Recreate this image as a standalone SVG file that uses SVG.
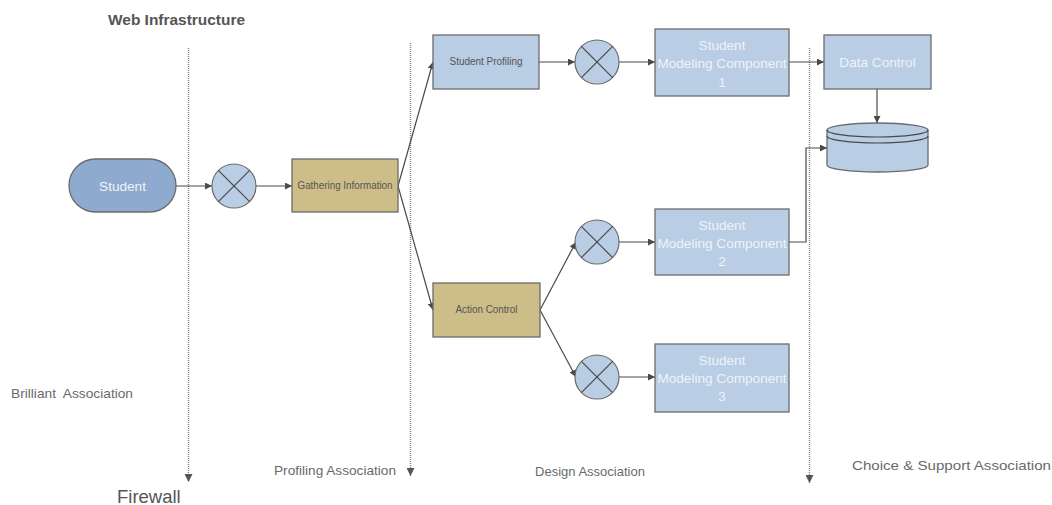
<svg xmlns="http://www.w3.org/2000/svg" width="1052" height="505" viewBox="0 0 1052 505">
<style>
.box{fill:#b9cde4;stroke:#6b6b6b;stroke-width:1.3}
.gold{fill:#cdbd88;stroke:#6b6b6b;stroke-width:1.3}
.pill{fill:#8eaacf;stroke:#6b6b6b;stroke-width:1.3}
.circ{fill:#b9cde4;stroke:#6b6b6b;stroke-width:1.2}
.x{stroke:#4a4a4a;stroke-width:1.2}
.con{fill:none;stroke:#4a4a4a;stroke-width:1.2}
.dot{fill:none;stroke:#888;stroke-width:1.5;stroke-dasharray:1 1}
.wt{font-family:"Liberation Sans",Arial,sans-serif;fill:#eef3f9;text-anchor:middle;font-size:13.6px}
.dt{font-family:"Liberation Sans",Arial,sans-serif;fill:#555;text-anchor:middle;font-size:10px}
.lbl{font-family:"Liberation Sans",Arial,sans-serif;fill:#6a6a6a;font-size:13.5px}
</style>
<defs>
<marker id="ah" viewBox="0 0 10 10" refX="10" refY="5" markerWidth="7" markerHeight="7" markerUnits="userSpaceOnUse" orient="auto">
<path d="M0,0 L10,5 L0,10 z" fill="#4a4a4a"/>
</marker>
<marker id="ahd" viewBox="0 0 10 10" refX="10" refY="5" markerWidth="8" markerHeight="8" markerUnits="userSpaceOnUse" orient="auto">
<path d="M0,0 L10,5 L0,10 z" fill="#555"/>
</marker>
</defs>

<text x="108" y="25" font-family="Liberation Sans,Arial,sans-serif" font-weight="bold" font-size="15" fill="#555" textLength="137" lengthAdjust="spacingAndGlyphs">Web Infrastructure</text>

<g id="dividers">
<line class="dot" x1="188.5" y1="48" x2="188.5" y2="482" marker-end="url(#ahd)"/>
<line class="dot" x1="410.5" y1="43" x2="410.5" y2="476" marker-end="url(#ahd)"/>
<line class="dot" x1="809.5" y1="48" x2="809.5" y2="483" marker-end="url(#ahd)"/>
</g>

<g id="connectors">
<line class="con" x1="176" y1="186" x2="212" y2="186" marker-end="url(#ah)"/>
<line class="con" x1="256" y1="186" x2="292" y2="186" marker-end="url(#ah)"/>
<line class="con" x1="398" y1="186" x2="433" y2="62" marker-end="url(#ah)"/>
<line class="con" x1="398" y1="186" x2="433" y2="310" marker-end="url(#ah)"/>
<line class="con" x1="539" y1="62" x2="575" y2="62" marker-end="url(#ah)"/>
<line class="con" x1="619" y1="62" x2="655" y2="62" marker-end="url(#ah)"/>
<line class="con" x1="789" y1="62" x2="824" y2="62" marker-end="url(#ah)"/>
<line class="con" x1="877" y1="89" x2="877" y2="123" marker-end="url(#ah)"/>
<line class="con" x1="540" y1="310" x2="576" y2="242" marker-end="url(#ah)"/>
<line class="con" x1="540" y1="310" x2="576" y2="377" marker-end="url(#ah)"/>
<line class="con" x1="619" y1="242" x2="655" y2="242" marker-end="url(#ah)"/>
<line class="con" x1="619" y1="377" x2="655" y2="377" marker-end="url(#ah)"/>
<polyline class="con" points="789,242 806,242 806,148 827,148" marker-end="url(#ah)"/>
</g>

<g id="student">
<rect class="pill" x="69" y="159" width="107" height="53" rx="26.5"/>
<text class="wt" x="122.5" y="191" font-size="13">Student</text>
</g>

<g id="junction1">
<circle class="circ" cx="234" cy="186" r="22"/>
<line class="x" x1="218.4" y1="170.4" x2="249.6" y2="201.6"/>
<line class="x" x1="249.6" y1="170.4" x2="218.4" y2="201.6"/>
</g>

<g id="gathering">
<rect class="gold" x="292" y="159" width="106" height="53"/>
<text class="dt" x="345" y="189" textLength="95" lengthAdjust="spacingAndGlyphs">Gathering Information</text>
</g>

<g id="profiling">
<rect class="box" x="433" y="35" width="106" height="54"/>
<text class="dt" x="486" y="65" textLength="73" lengthAdjust="spacingAndGlyphs">Student Profiling</text>
</g>

<g id="junction2">
<circle class="circ" cx="597" cy="62" r="22"/>
<line class="x" x1="581.4" y1="46.4" x2="612.6" y2="77.6"/>
<line class="x" x1="612.6" y1="46.4" x2="581.4" y2="77.6"/>
</g>

<g id="smc1">
<rect class="box" x="655" y="29" width="134" height="67"/>
<text class="wt" x="722" y="50">Student</text>
<text class="wt" x="722" y="68">Modeling Component</text>
<text class="wt" x="722" y="87">1</text>
</g>

<g id="datacontrol">
<rect class="box" x="824" y="35" width="107" height="54"/>
<text class="wt" x="877.5" y="67">Data Control</text>
</g>

<g id="database">
<path class="box" d="M827,130 L827,165 A50.5,7 0 0 0 928,165 L928,130 A50.5,7 0 0 0 827,130 Z"/>
<path class="con" d="M827,130 A50.5,7 0 0 0 928,130"/>
<path class="con" d="M827,136 A50.5,7 0 0 0 928,136"/>
</g>

<g id="action">
<rect class="gold" x="433" y="283" width="107" height="54"/>
<text class="dt" x="486.5" y="313" textLength="62" lengthAdjust="spacingAndGlyphs">Action Control</text>
</g>

<g id="junction3">
<circle class="circ" cx="597" cy="242" r="22"/>
<line class="x" x1="581.4" y1="226.4" x2="612.6" y2="257.6"/>
<line class="x" x1="612.6" y1="226.4" x2="581.4" y2="257.6"/>
</g>

<g id="smc2">
<rect class="box" x="655" y="209" width="134" height="66"/>
<text class="wt" x="722" y="230">Student</text>
<text class="wt" x="722" y="248">Modeling Component</text>
<text class="wt" x="722" y="266">2</text>
</g>

<g id="junction4">
<circle class="circ" cx="597" cy="377" r="22"/>
<line class="x" x1="581.4" y1="361.4" x2="612.6" y2="392.6"/>
<line class="x" x1="612.6" y1="361.4" x2="581.4" y2="392.6"/>
</g>

<g id="smc3">
<rect class="box" x="655" y="344" width="134" height="68"/>
<text class="wt" x="722" y="365">Student</text>
<text class="wt" x="722" y="383">Modeling Component</text>
<text class="wt" x="722" y="401">3</text>
</g>

<g id="labels">
<text class="lbl" x="11" y="398" xml:space="preserve" textLength="122" lengthAdjust="spacingAndGlyphs">Brilliant  Association</text>
<text x="117" y="503" font-family="Liberation Sans,Arial,sans-serif" font-size="18.5" fill="#555">Firewall</text>
<text class="lbl" x="274" y="475" textLength="122" lengthAdjust="spacingAndGlyphs">Profiling Association</text>
<text class="lbl" x="535" y="476" textLength="110" lengthAdjust="spacingAndGlyphs">Design Association</text>
<text class="lbl" x="852" y="470" textLength="199" lengthAdjust="spacingAndGlyphs">Choice &amp; Support Association</text>
</g>
</svg>
